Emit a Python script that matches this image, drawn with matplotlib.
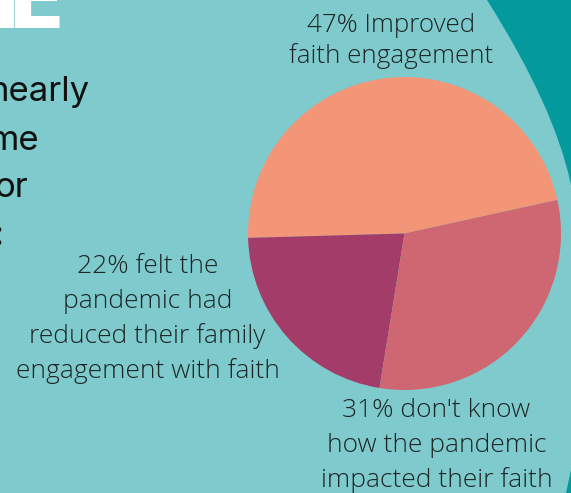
import matplotlib
matplotlib.use("Agg")
import matplotlib.pyplot as plt
from matplotlib.path import Path
from matplotlib.patches import PathPatch, Polygon

# ---- data ----
categories = ["47% Improved\nfaith engagement",
              "22% felt the\npandemic had\nreduced their family\nengagement with faith",
              "31% don't know\nhow the pandemic\nimpacted their faith"]
values = [47, 22, 31]
colors = ["#f39678", "#a33c68", "#cf6772"]
side_words = ["nearly", "me", "or", ":"]
heading = "IE"

W, H = 571, 493
BG = "#7fcacc"
DARK = "#03999d"
TXT = "#1c2626"

fig = plt.figure(figsize=(W / 100, H / 100), dpi=100)
fig.patch.set_facecolor(BG)

def fx(x):
    return x / W

def fy(y):
    return 1 - y / H

# decorative dark teal shapes (top right / bottom right)
verts = [(fx(487), fy(0)), (fx(555), fy(107.5)), (fx(571), fy(185)),
         (fx(575), fy(185)), (fx(575), fy(-5)), (fx(487), fy(-5)), (fx(487), fy(0))]
codes = [Path.MOVETO, Path.CURVE3, Path.CURVE3, Path.LINETO, Path.LINETO,
         Path.LINETO, Path.CLOSEPOLY]
fig.add_artist(PathPatch(Path(verts, codes), facecolor=DARK, edgecolor="none",
                         transform=fig.transFigure))
fig.add_artist(Polygon([(fx(566), fy(493)), (fx(571), fy(470)), (fx(571), fy(493))],
                       closed=True, facecolor=DARK, edgecolor="none",
                       transform=fig.transFigure))

# pie
cx, cy, r = 404.5, 233.5, 156.5
ax = fig.add_axes([fx(cx - r), fy(cy + r), 2 * r / W, 2 * r / H])
ax.pie(values, colors=colors, startangle=12.4, counterclock=True,
       wedgeprops=dict(linewidth=0))
ax.set_xlim(-1, 1)
ax.set_ylim(-1, 1)
ax.set_aspect("equal")
ax.axis("off")

# labels (drawn line by line)
label_pos = [(391.5, [32, 63]), (147.5, [273, 308, 343, 378]), (436.5, [417, 452, 487])]
label_sizes = [18.7, 19.0, 19.0]
for text, (x, baselines), fs in zip(categories, label_pos, label_sizes):
    for line, b in zip(text.split("\n"), baselines):
        fig.text(fx(x), fy(b), line, ha="center", va="baseline", fontsize=fs,
                 family="Open Sans", fontweight="light", color=TXT)

# cut-off side text
side_right = [90, 39, 28, 3]
side_base = [101, 150, 197, 245]
for w, xr, b in zip(side_words, side_right, side_base):
    fig.text(fx(xr), fy(b), w, ha="right", va="baseline", fontsize=25,
             family="Inter", color="#111111")

# cut-off heading, letter by letter so it sits like the reference
head_right = [21, 65]
for ch, xr in zip(heading, head_right):
    fig.text(fx(xr), fy(28), ch, ha="right", va="baseline", fontsize=62,
             family="DejaVu Sans", fontweight="bold", color="white")

fig.savefig("out.png", dpi=100, facecolor=BG)
